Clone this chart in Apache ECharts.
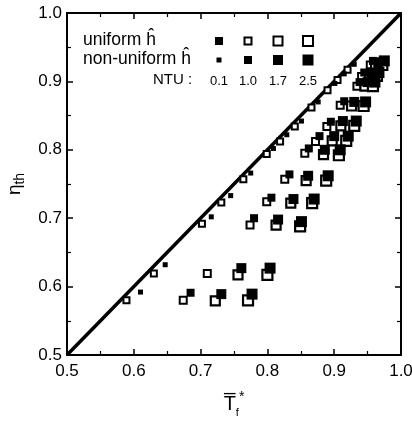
<!DOCTYPE html>
<html><head><meta charset="utf-8">
<script src="https://cdn.jsdelivr.net/npm/echarts@6/dist/echarts.min.js"></script>
<style>html,body{margin:0;padding:0;background:#fff}#c{width:412px;height:424px}</style>
</head><body><div id="c"></div>
<script>
// data: [T_f*, eta_th]
const uniform01 = [[0.589,0.580],[0.630,0.619],[0.702,0.692],[0.731,0.723],[0.764,0.757],[0.799,0.794],[0.819,0.812],[0.841,0.834],[0.866,0.862],[0.890,0.887],[0.905,0.902],[0.920,0.917]];
const nonuni01  = [[0.610,0.592],[0.647,0.632],[0.716,0.702],[0.745,0.733],[0.775,0.766],[0.809,0.802],[0.829,0.822],[0.851,0.842],[0.876,0.870],[0.901,0.897],[0.915,0.911],[0.930,0.925]];
const uniform10 = [[0.674,0.580],[0.710,0.619],[0.774,0.690],[0.799,0.724],[0.826,0.757],[0.856,0.795],[0.872,0.812],[0.889,0.834],[0.909,0.865],[0.934,0.893],[0.941,0.907],[0.954,0.924]];
const nonuni10  = [[0.685,0.591],[0.780,0.700],[0.806,0.730],[0.833,0.764],[0.862,0.802],[0.878,0.820],[0.895,0.841],[0.915,0.871],[0.938,0.899],[0.945,0.913],[0.958,0.930]];
const uniform17 = [[0.722,0.579],[0.756,0.617],[0.813,0.690],[0.835,0.722],[0.858,0.755],[0.884,0.793],[0.897,0.813],[0.910,0.835],[0.926,0.864],[0.946,0.893],[0.953,0.907],[0.962,0.922]];
const nonuni17  = [[0.731,0.589],[0.761,0.627],[0.816,0.698],[0.839,0.728],[0.861,0.762],[0.886,0.800],[0.900,0.820],[0.913,0.842],[0.930,0.870],[0.950,0.899],[0.956,0.913],[0.966,0.928]];
const uniform25 = [[0.771,0.580],[0.800,0.617],[0.849,0.688],[0.867,0.722],[0.888,0.755],[0.907,0.792],[0.918,0.813],[0.930,0.835],[0.944,0.864],[0.958,0.893],[0.964,0.908],[0.972,0.924]];
const nonuni25  = [[0.777,0.589],[0.804,0.627],[0.851,0.695],[0.870,0.728],[0.891,0.762],[0.909,0.800],[0.921,0.820],[0.933,0.842],[0.947,0.870],[0.961,0.899],[0.967,0.913],[0.975,0.930]];
const diagonal  = [[0.5,0.5],[1.0,1.0]];
const ntuLabels = ['0.1','1.0','1.7','2.5'];
const tickLabels = ['0.5','0.6','0.7','0.8','0.9','1.0'];

const FONT = 'Liberation Sans, Arial, sans-serif';
const chart = echarts.init(document.getElementById('c'));

function axisCommon(pos, showLabel){
  return {
    type:'value', min:0.5, max:1.0, interval:0.1, position:pos,
    axisLine:{show:true,onZero:false,lineStyle:{color:'#000',width:2}},
    axisTick:{show:true,inside:true,length:6,lineStyle:{color:'#000',width:1.5}},
    minorTick:{show:true,splitNumber:2,length:4,lineStyle:{color:'#000',width:1.2}},
    splitLine:{show:false},
    axisLabel:{show:showLabel,color:'#000',fontFamily:FONT,fontSize:17,
      formatter:v=>tickLabels[Math.round((v-0.5)*10)]}
  };
}
const xBottom = Object.assign(axisCommon('bottom',true),{
  name:'{a|T\u0305}{b|f}{c|*}', nameLocation:'middle', nameGap:35,
  nameTextStyle:{rich:{
    a:{fontFamily:FONT,fontSize:20,color:'#000',lineHeight:28,verticalAlign:'middle'},
    b:{fontFamily:FONT,fontSize:11,color:'#000',lineHeight:28,verticalAlign:'bottom'},
    c:{fontFamily:FONT,fontSize:14,color:'#000',lineHeight:28,verticalAlign:'top'}}}
});
xBottom.axisLabel.margin = 8;
const yLeft = Object.assign(axisCommon('left',true),{
  name:'{a|\u03b7}{b|th}', nameLocation:'middle', nameGap:38, nameRotate:90,
  nameTextStyle:{rich:{
    a:{fontFamily:FONT,fontSize:19,color:'#000',lineHeight:26,verticalAlign:'middle'},
    b:{fontFamily:FONT,fontSize:14,color:'#000',lineHeight:26,verticalAlign:'bottom'}}}
});
yLeft.axisLabel.margin = 5;

function sc(name,data,size,open,bw){
  return {name, type:'scatter', xAxisIndex:0, yAxisIndex:0, data, symbol:'rect', symbolSize:size,
    itemStyle: open ? {color:'#fff',borderColor:'#000',borderWidth:bw,opacity:1} : {color:'#000',opacity:1},
    z: open?3:4, silent:true};
}

const lx = [219,248,278,308];
const openSizes = [6,7,9,10], fillSizes=[5,8,10,11];
const graphics = [
  {type:'text',left:83,top:31,style:{text:'uniform \u0125',fontFamily:FONT,fontSize:17.5,fill:'#000'}},
  {type:'text',left:83,top:50,style:{text:'non-uniform \u0125',fontFamily:FONT,fontSize:17.5,fill:'#000'}},
  {type:'text',left:153,top:72,style:{text:'NTU :',fontFamily:FONT,fontSize:15,fill:'#000'}}
];
ntuLabels.forEach((t,i)=>{
  graphics.push({type:'text',x:lx[i],y:81,style:{text:t,fontFamily:FONT,fontSize:13,fill:'#000',align:'center',verticalAlign:'middle'}});
  const so=openSizes[i], sf=fillSizes[i];
  graphics.push({type:'rect',shape:{x:lx[i]-so/2,y:41-so/2,width:so,height:so},style:{fill:i===0?'#000':'#fff',stroke:'#000',lineWidth:2}});
  graphics.push({type:'rect',shape:{x:lx[i]-sf/2,y:60-sf/2,width:sf,height:sf},style:{fill:'#000'}});
});

chart.setOption({
  animation:false, backgroundColor:'#fff',
  grid:{left:67,right:11,top:13,bottom:69,containLabel:false,outerBoundsMode:'none'},
  xAxis:[xBottom, axisCommon('top',false)],
  yAxis:[yLeft, axisCommon('right',false)],
  graphic:graphics,
  series:[
    {type:'line',data:diagonal,symbol:'none',lineStyle:{color:'#000',width:3.5},z:2,silent:true},
    sc('u01',uniform01,openSizes[0],true,2),
    sc('u10',uniform10,openSizes[1],true,2),
    sc('u17',uniform17,openSizes[2],true,2.2),
    sc('u25',uniform25,openSizes[3],true,2.2),
    sc('n01',nonuni01,fillSizes[0],false),
    sc('n10',nonuni10,fillSizes[1],false),
    sc('n17',nonuni17,fillSizes[2],false),
    sc('n25',nonuni25,fillSizes[3],false)
  ]
});
</script></body></html>
